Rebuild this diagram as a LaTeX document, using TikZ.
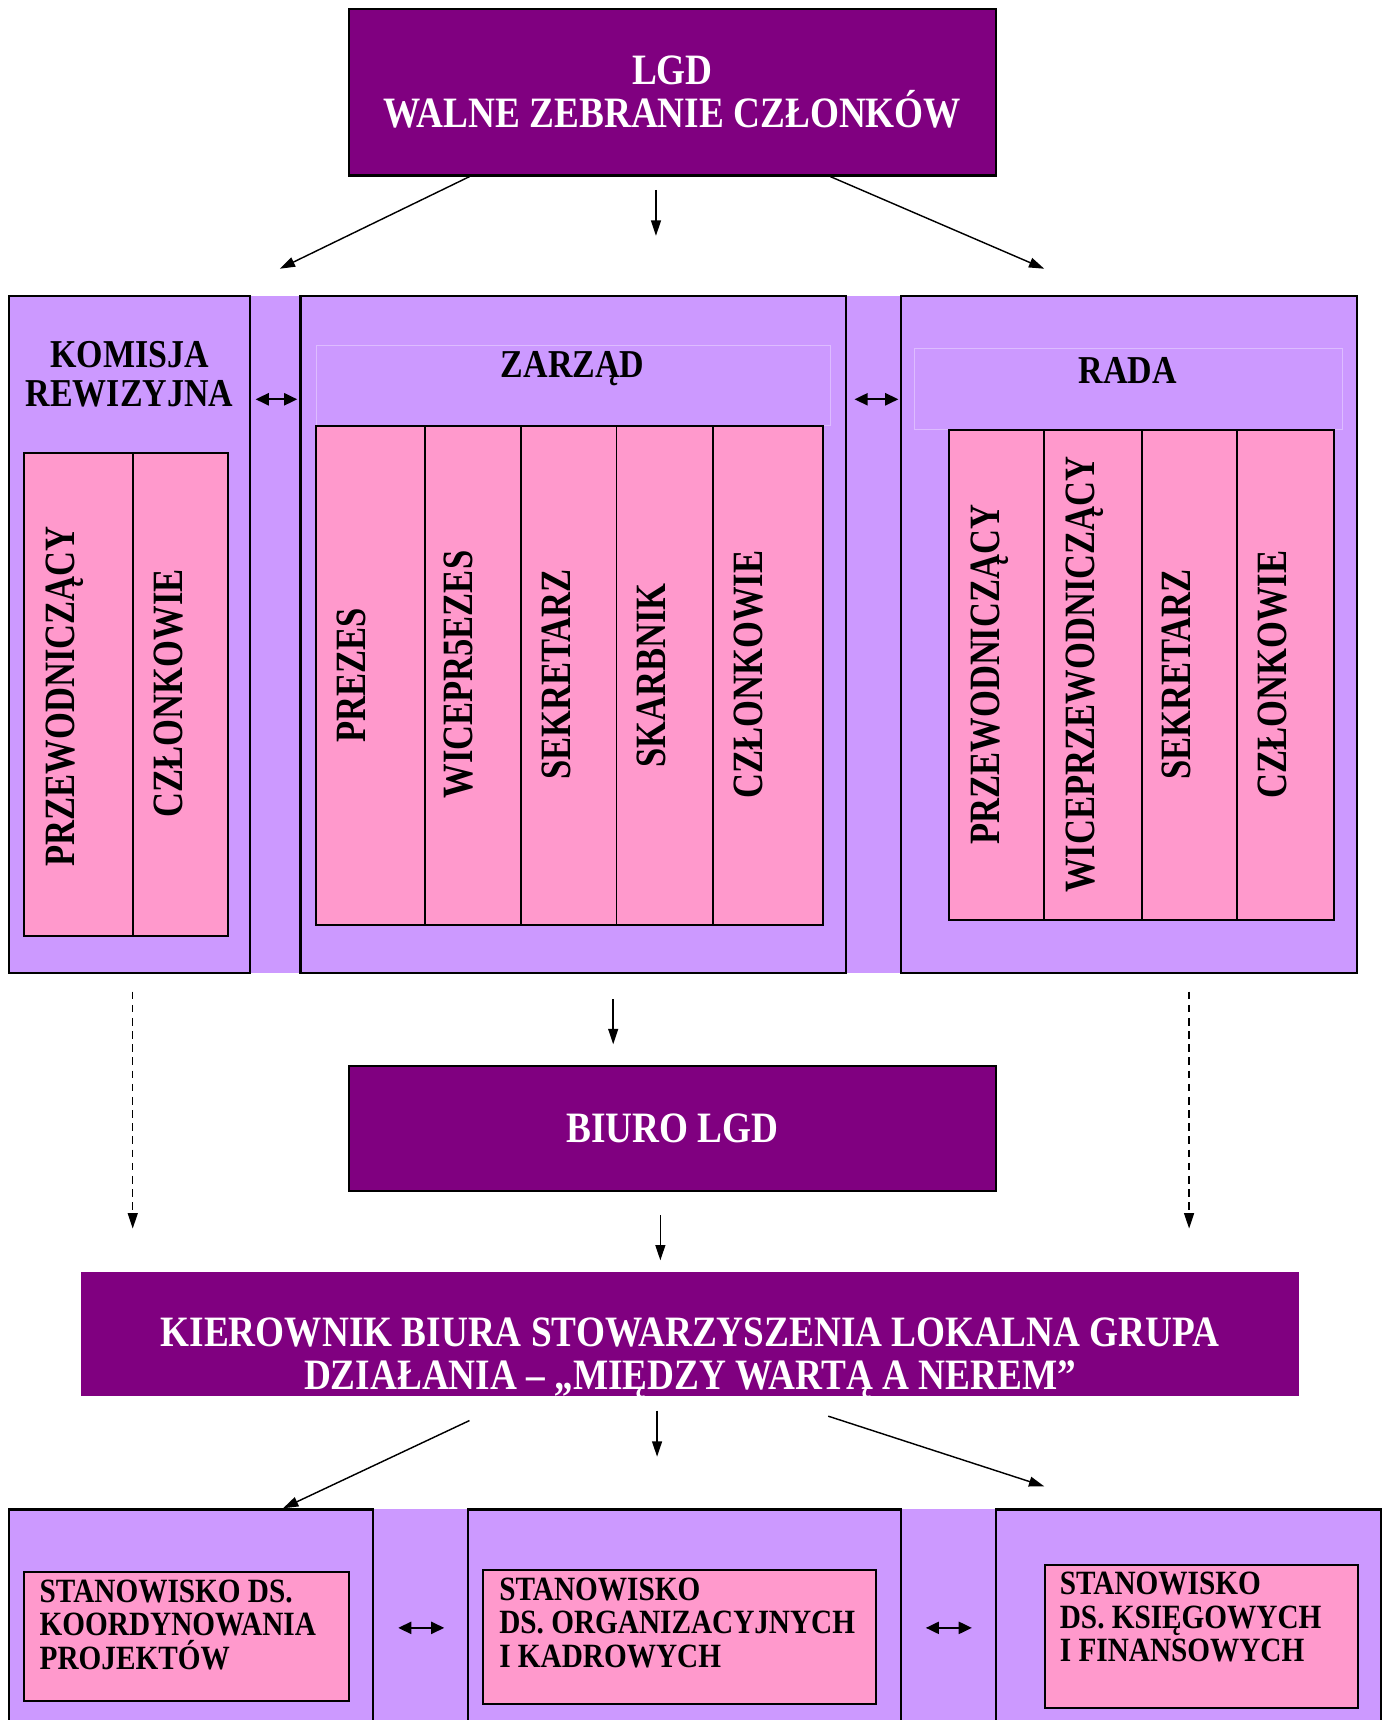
\documentclass[tikz,border=0pt]{standalone}
\usepackage{fontspec}
\setmainfont{Liberation Serif}[FakeStretch=0.86]
\newfontfamily\narrowserif{Liberation Serif}[FakeStretch=0.8]
\usetikzlibrary{arrows.meta}
\definecolor{lgdpurple}{HTML}{800080}
\definecolor{lilac}{HTML}{CC99FF}
\definecolor{rose}{HTML}{FF99CC}
\begin{document}
\begin{tikzpicture}[x=1pt,y=1pt,
        lgdbox/.style={draw=black,line width=2pt,fill=lgdpurple,text=white,align=center,inner sep=0pt,
            font=\bfseries\fontsize{39.5pt}{39pt}\selectfont},
        orgbox/.style={draw=black,line width=2pt,fill=lilac,inner sep=0pt},
        rolecell/.style={draw=black,line width=1.8pt,fill=rose,inner sep=0pt},
        orgtitle/.style={align=center,inner sep=0pt,font=\bfseries\fontsize{36pt}{35pt}\selectfont},
        rolelabel/.style={rotate=90,inner sep=0pt,text height=26pt,text depth=0pt,
            font={\narrowserif\bfseries\fontsize{39.4pt}{40pt}\selectfont}},
        postlabel/.style={anchor=north west,align=left,inner sep=0pt,font=\bfseries\fontsize{31pt}{30.5pt}\selectfont},
        titleframe/.style={draw=white,opacity=0.35,line width=0.7pt},
        flow/.style={-{Triangle[length=14pt,width=9pt]},line width=1.3pt},
        dashflow/.style={flow,dash pattern=on 7pt off 5pt},
        mutual/.style={{Triangle[length=12pt,width=11pt]}-{Triangle[length=12pt,width=11pt]},line width=2pt}]
    \useasboundingbox (0,0) rectangle (1264,-1568);

    \node[lgdbox,minimum width=590pt,minimum height=152pt] (lgd) at (613,-84) {LGD\\WALNE ZEBRANIE CZŁONKÓW};

    \fill[lilac] (8,-270) rectangle (1237,-887);
    \node[orgbox,minimum width=220pt,minimum height=617pt] (kom) at (118,-578.5) {};
    \node[orgbox,minimum width=497pt,minimum height=617pt] (zar) at (522.5,-578.5) {};
    \node[orgbox,minimum width=416pt,minimum height=617pt] (rada) at (1029,-578.5) {};
    \draw[titleframe] (288,-315) rectangle (757,-388);
    \draw[titleframe] (834,-318) rectangle (1224,-391);

    \node[orgtitle] (komt) at (118,-341) {KOMISJA\\REWIZYJNA};
    \node[orgtitle] (zart) at (522,-336) {ZARZĄD};
    \node[orgtitle] (radat) at (1028,-338) {RADA};

    \node[rolecell,minimum width=99pt,minimum height=440pt] (kom1) at (71.5,-633) {};
    \node[rolecell,minimum width=87pt,minimum height=440pt] (kom2) at (164.5,-633) {};
    \node[rolelabel] (kom1t) at (55,-635) {PRZEWODNICZĄCY};
    \node[rolelabel] (kom2t) at (153,-632) {CZŁONKOWIE};

    \node[rolecell,minimum width=99pt,minimum height=455pt] (zar1) at (337.5,-615.5) {};
    \node[rolecell,minimum width=88pt,minimum height=455pt] (zar2) at (431,-615.5) {};
    \node[rolecell,minimum width=87pt,minimum height=455pt] (zar3) at (518.5,-615.5) {};
    \node[rolecell,minimum width=88pt,minimum height=455pt] (zar4) at (606,-615.5) {};
    \node[rolecell,minimum width=100pt,minimum height=455pt] (zar5) at (700,-615.5) {};
    \node[rolelabel] (zar1t) at (320,-616) {PREZES};
    \node[rolelabel] (zar2t) at (418,-615) {WICEPR5EZES};
    \node[rolelabel] (zar3t) at (507,-615) {SEKRETARZ};
    \node[rolelabel] (zar4t) at (594,-616) {SKARBNIK};
    \node[rolelabel] (zar5t) at (682,-615) {CZŁONKOWIE};

    \node[rolecell,minimum width=87pt,minimum height=447pt] (rada1) at (908.5,-615.5) {};
    \node[rolecell,minimum width=89pt,minimum height=447pt] (rada2) at (996.5,-615.5) {};
    \node[rolecell,minimum width=87pt,minimum height=447pt] (rada3) at (1084.5,-615.5) {};
    \node[rolecell,minimum width=88pt,minimum height=447pt] (rada4) at (1172,-615.5) {};
    \node[rolelabel] (rada1t) at (898,-615) {PRZEWODNICZĄCY};
    \node[rolelabel] (rada2t) at (985,-615) {WICEPRZEWODNICZĄCY};
    \node[rolelabel] (rada3t) at (1072,-615) {SEKRETARZ};
    \node[rolelabel] (rada4t) at (1160,-615) {CZŁONKOWIE};

    \coordinate (toKom) at (255,-245);
    \coordinate (toZar) at (598,-215);
    \coordinate (toRada) at (952,-245);
    \draw[flow] ([xshift=-185pt]lgd.south) -- (toKom);
    \draw[flow] ([xshift=-15pt,yshift=-12pt]lgd.south) -- (toZar);
    \draw[flow] ([xshift=144pt]lgd.south) -- (toRada);

    \draw[mutual] ([xshift=4pt,yshift=214.5pt]kom.east) -- ([xshift=-2pt,yshift=214.5pt]zar.west);
    \draw[mutual] ([xshift=7pt,yshift=214.5pt]zar.east) -- ([xshift=-1pt,yshift=214.5pt]rada.west);

    \node[lgdbox,minimum width=590pt,minimum height=114pt] (biuro) at (613,-1029) {BIURO LGD};

    \coordinate (komDown) at (121,-1120);
    \coordinate (radaDown) at (1084,-1120);
    \draw[dashflow] ([xshift=3pt,yshift=-16pt]kom.south) -- (komDown);
    \draw[dashflow] ([xshift=55pt,yshift=-16pt]rada.south) -- (radaDown);
    \draw[flow] ([xshift=36.5pt,yshift=-23pt]zar.south) -- ([xshift=-54pt,yshift=19pt]biuro.north);

    \node[lgdbox,draw=none,minimum width=1110pt,minimum height=113pt] (kier) at (629,-1216.5) {};
    \node[lgdbox,fill=none,draw=none] (kiert) at (629,-1238) {KIEROWNIK BIURA STOWARZYSZENIA LOKALNA GRUPA\\DZIAŁANIA – „MIĘDZY WARTĄ A NEREM”};
    \draw[flow] ([xshift=-11pt,yshift=-21pt]biuro.south) -- ([xshift=-27pt,yshift=10pt]kier.north);

    \fill[lilac] (8,-1376) rectangle (1259,-1600);
    \node[orgbox,minimum width=332pt,minimum height=224pt] (st1) at (174,-1488) {};
    \node[orgbox,minimum width=394pt,minimum height=224pt] (st2) at (624,-1488) {};
    \node[orgbox,minimum width=351pt,minimum height=224pt] (st3) at (1083.5,-1488) {};

    \coordinate (toOrg) at (599,-1328);
    \coordinate (toFin) at (952,-1355);
    \draw[flow] ([xshift=-201pt,yshift=-21pt]kier.south) -- ([xshift=84pt]st1.north);
    \draw[flow] ([xshift=-30pt,yshift=-12pt]kier.south) -- (toOrg);
    \draw[flow] ([xshift=126pt,yshift=-17pt]kier.south) -- (toFin);

    \node[rolecell,minimum width=296pt,minimum height=118pt] (p1) at (170,-1492) {};
    \node[rolecell,minimum width=359pt,minimum height=122pt] (p2) at (619.5,-1492) {};
    \node[rolecell,minimum width=285pt,minimum height=130pt] (p3) at (1095.5,-1492) {};
    \node[postlabel] (p1t) at (36,-1440) {STANOWISKO DS.\\KOORDYNOWANIA\\PROJEKTÓW};
    \node[postlabel] (p2t) at (455,-1438) {STANOWISKO\\DS. ORGANIZACYJNYCH\\I KADROWYCH};
    \node[postlabel] (p3t) at (966,-1433) {STANOWISKO\\DS. KSIĘGOWYCH\\I FINANSOWYCH};

    \draw[mutual] ([xshift=22pt,yshift=4pt]st1.east) -- ([xshift=-21pt,yshift=4pt]st2.west);
    \draw[mutual] ([xshift=22pt,yshift=4pt]st2.east) -- ([xshift=-21pt,yshift=4pt]st3.west);
\end{tikzpicture}
\end{document}
